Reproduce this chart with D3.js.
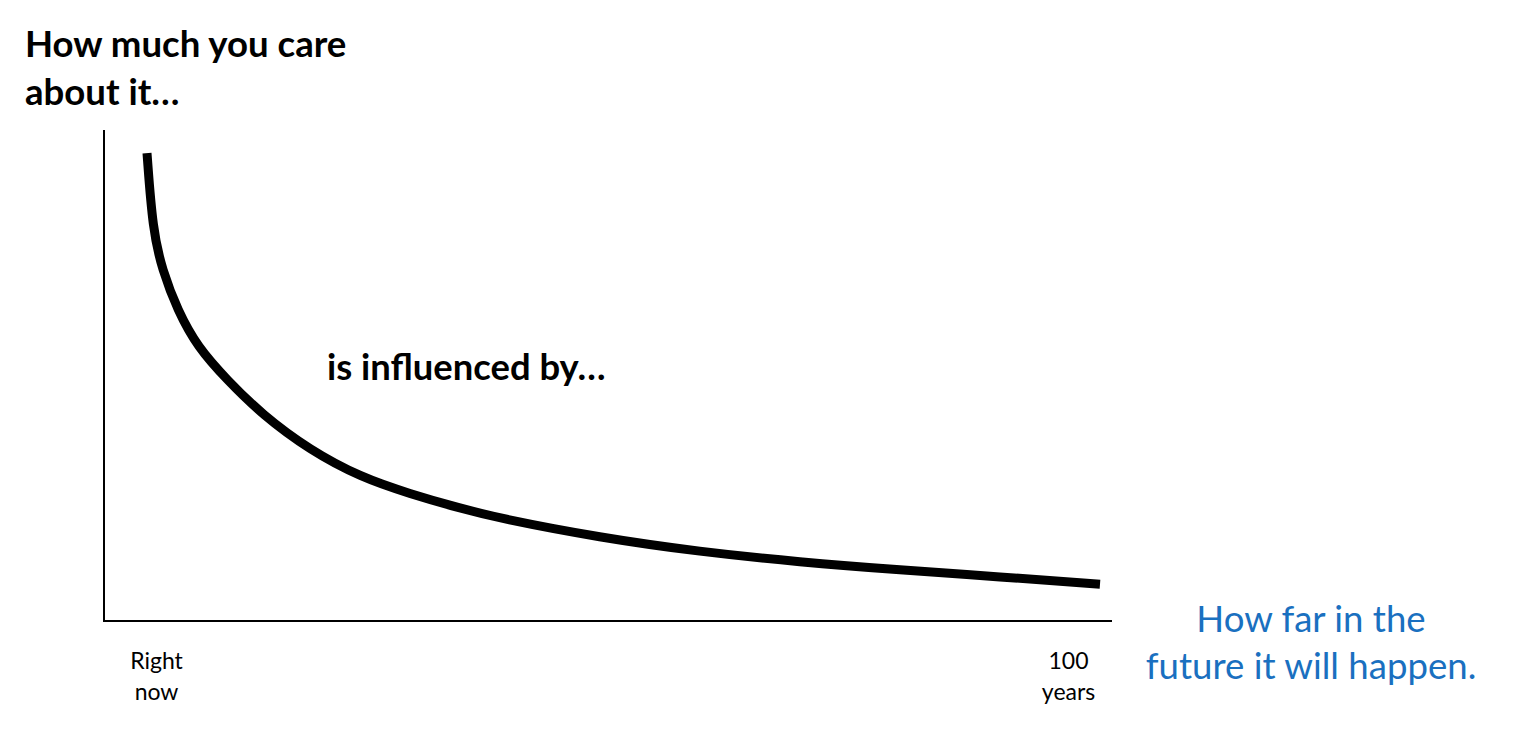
<!DOCTYPE html>
<html>
<head>
<meta charset="utf-8">
<script src="https://cdn.jsdelivr.net/npm/d3@7"></script>
<style>
  html, body { margin: 0; padding: 0; background: #fff; }
  svg { display: block; }
</style>
</head>
<body>
<svg id="chart" width="1526" height="754"></svg>
<script>
// ---- data ----
const years = [0, 0.6, 1.6, 3.2, 5.3, 8.4, 12.1, 17.1, 22.4, 27.6, 32.8, 37.0, 47.5, 58.0, 68.5, 79.0, 89.5, 100];
const care  = [95.3, 79.6, 71.5, 63.3, 55.8, 49.1, 42.0, 34.8, 29.3, 25.9, 23.0, 20.9, 17.0, 14.1, 12.0, 10.4, 9.0, 7.5];
const xTickValues = [1, 96.7];
const xTickLabels = [["Right", "now"], ["100", "years"]];
const yTitleLines = ["How much you care", "about it…"];
const xTitleLines = ["How far in the", "future it will happen."];
const midLabel = "is influenced by…";

// ---- layout ----
const svg = d3.select("#chart");
const plot = { left: 104, right: 1112, top: 130, bottom: 621 };
const x = d3.scaleLinear().domain([0, 100]).range([147, 1100]);
const y = d3.scaleLinear().domain([0, 100]).range([plot.bottom, plot.top]);

const font = "Lato, 'Open Sans', sans-serif";

// axes (plain lines, no ticks)
svg.append("line")
  .attr("x1", plot.left).attr("x2", plot.left)
  .attr("y1", plot.top).attr("y2", plot.bottom + 1)
  .attr("stroke", "#000").attr("stroke-width", 2);
svg.append("line")
  .attr("x1", plot.left - 1).attr("x2", plot.right)
  .attr("y1", plot.bottom).attr("y2", plot.bottom)
  .attr("stroke", "#000").attr("stroke-width", 2);

// curve
const pts = years.map((t, i) => [t, care[i]]);
const line = d3.line()
  .x(d => x(d[0])).y(d => y(d[1]))
  .curve(d3.curveBasis);
svg.append("path")
  .datum(pts)
  .attr("d", line)
  .attr("fill", "none")
  .attr("stroke", "#000")
  .attr("stroke-width", 9)
  .attr("stroke-linecap", "butt");

// x tick labels
xTickValues.forEach((v, i) => {
  const t = svg.append("text")
    .attr("x", x(v))
    .attr("y", 669)
    .attr("text-anchor", "middle")
    .attr("font-family", font)
    .attr("font-size", 23)
    .attr("fill", "#000");
  xTickLabels[i].forEach((s, j) => {
    t.append("tspan").attr("x", x(v)).attr("dy", j === 0 ? 0 : 31).text(s);
  });
});

// y title (top-left)
const yt = svg.append("text")
  .attr("x", 25).attr("y", 57)
  .attr("font-family", font)
  .attr("font-weight", 700)
  .attr("font-size", 36.6)
  .attr("fill", "#000");
yTitleLines.forEach((s, j) => {
  yt.append("tspan").attr("x", 25).attr("dy", j === 0 ? 0 : 48).text(s);
});

// x title (right, blue)
const xt = svg.append("text")
  .attr("x", 1311).attr("y", 632)
  .attr("text-anchor", "middle")
  .attr("font-family", font)
  .attr("font-size", 36.6)
  .attr("fill", "#1a70c0");
xTitleLines.forEach((s, j) => {
  xt.append("tspan").attr("x", 1311).attr("dy", j === 0 ? 0 : 47).text(s);
});

// middle annotation
svg.append("text")
  .attr("x", 327).attr("y", 380)
  .attr("font-family", font)
  .attr("font-weight", 700)
  .attr("font-size", 36.4)
  .attr("fill", "#000")
  .text(midLabel);
</script>
</body>
</html>
